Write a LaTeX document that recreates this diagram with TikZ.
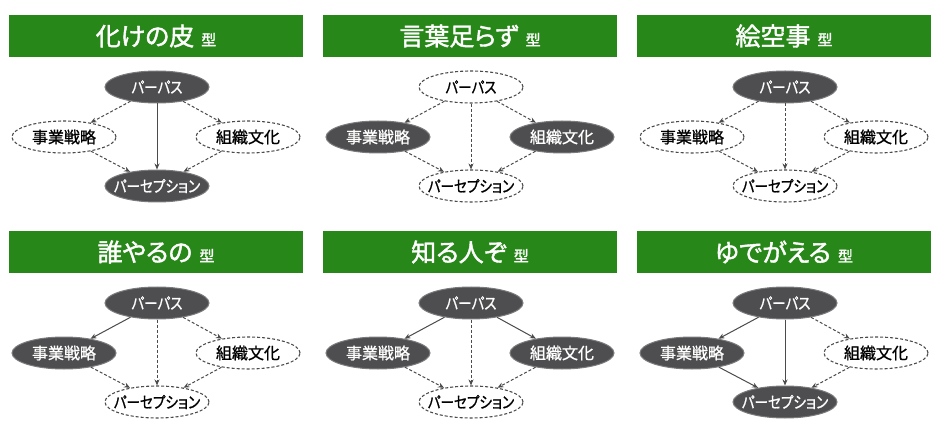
\documentclass[tikz,border=0pt]{standalone}
\usepackage{fontspec}
\usepackage{graphicx}
\setmainfont{Noto Sans CJK JP}[RawFeature=+palt]
\newfontfamily\heavyjp{Noto Sans CJK JP}[RawFeature=+palt, FakeBold=1.6]
\newfontfamily\mediumjp{Noto Sans CJK JP}[RawFeature=+palt, FakeBold=1.0]
\usetikzlibrary{shapes.geometric,arrows.meta}
\definecolor{bannergreen}{RGB}{40,135,25}
\definecolor{nodegray}{RGB}{78,78,80}
\definecolor{linegray}{RGB}{75,75,75}

\tikzset{
  banner/.style={fill=bannergreen, minimum width=294pt, minimum height=42pt, inner sep=0pt, text=white},
  full/.style={ellipse, fill=nodegray, draw=nodegray!75!white, line width=1pt, text=white,
    minimum width=104pt, minimum height=32pt, inner sep=0pt, font=\mediumjp\fontsize{16}{16}\selectfont},
  open/.style={full, fill=white, draw=linegray, line width=1.1pt, dash pattern=on 3pt off 2pt, text=black},
  link/.style={-{Stealth[length=6pt,width=5pt]}, draw=linegray, line width=1pt},
  dlink/.style={link, dash pattern=on 3pt off 2pt}
}
\newcommand{\bigtitle}[1]{\heavyjp\fontsize{25}{25}\selectfont #1\hspace{7pt}\fontsize{15}{15}\selectfont 型}
\newcommand{\nlabel}[1]{\makebox[0pt]{#1}}
\newcommand{\kana}[1]{\makebox[0pt]{\scalebox{0.85}[1]{#1}}}

\begin{document}
\begin{tikzpicture}[x=1pt, y=-1pt]
  \useasboundingbox[fill=white] (0,0) rectangle (941,443);

  % 化けの皮
  \begin{scope}[shift={(0,0)}]
  \node[banner] (title1) at (156,36) {\bigtitle{化けの皮}};
  \node[full] (pur1) at (157,87) {\kana{パーパス}};
  \node[open] (strat1) at (64,137) {\nlabel{事業戦略}};
  \node[open] (cult1) at (248,137) {\nlabel{組織文化}};
  \node[full] (perc1) at (157,186) {\kana{パーセプション}};
  \draw[dlink] (pur1) -- (strat1);
  \draw[dlink] (pur1) -- (cult1);
  \draw[link] (pur1) -- (perc1);
  \draw[dlink] (strat1) -- (perc1);
  \draw[dlink] (cult1) -- (perc1);
  \end{scope}

  % 言葉足らず
  \begin{scope}[shift={(314,0)}]
  \node[banner] (title2) at (156,36) {\bigtitle{言葉足らず}};
  \node[open] (pur2) at (157,87) {\kana{パーパス}};
  \node[full] (strat2) at (64,137) {\nlabel{事業戦略}};
  \node[full] (cult2) at (248,137) {\nlabel{組織文化}};
  \node[open] (perc2) at (157,186) {\kana{パーセプション}};
  \draw[dlink] (pur2) -- (strat2);
  \draw[dlink] (pur2) -- (cult2);
  \draw[dlink] (pur2) -- (perc2);
  \draw[dlink] (strat2) -- (perc2);
  \draw[dlink] (cult2) -- (perc2);
  \end{scope}

  % 絵空事
  \begin{scope}[shift={(628,0)}]
  \node[banner] (title3) at (156,36) {\bigtitle{絵空事}};
  \node[full] (pur3) at (157,87) {\kana{パーパス}};
  \node[open] (strat3) at (64,137) {\nlabel{事業戦略}};
  \node[open] (cult3) at (248,137) {\nlabel{組織文化}};
  \node[open] (perc3) at (157,186) {\kana{パーセプション}};
  \draw[dlink] (pur3) -- (strat3);
  \draw[dlink] (pur3) -- (cult3);
  \draw[dlink] (pur3) -- (perc3);
  \draw[dlink] (strat3) -- (perc3);
  \draw[dlink] (cult3) -- (perc3);
  \end{scope}

  % 誰やるの
  \begin{scope}[shift={(0,216)}]
  \node[banner] (title4) at (156,36) {\bigtitle{誰やるの}};
  \node[full] (pur4) at (157,87) {\kana{パーパス}};
  \node[full] (strat4) at (64,137) {\nlabel{事業戦略}};
  \node[open] (cult4) at (248,137) {\nlabel{組織文化}};
  \node[open] (perc4) at (157,186) {\kana{パーセプション}};
  \draw[link] (pur4) -- (strat4);
  \draw[dlink] (pur4) -- (cult4);
  \draw[dlink] (pur4) -- (perc4);
  \draw[dlink] (strat4) -- (perc4);
  \draw[dlink] (cult4) -- (perc4);
  \end{scope}

  % 知る人ぞ
  \begin{scope}[shift={(314,216)}]
  \node[banner] (title5) at (156,36) {\bigtitle{知る人ぞ}};
  \node[full] (pur5) at (157,87) {\kana{パーパス}};
  \node[full] (strat5) at (64,137) {\nlabel{事業戦略}};
  \node[full] (cult5) at (248,137) {\nlabel{組織文化}};
  \node[open] (perc5) at (157,186) {\kana{パーセプション}};
  \draw[link] (pur5) -- (strat5);
  \draw[link] (pur5) -- (cult5);
  \draw[dlink] (pur5) -- (perc5);
  \draw[dlink] (strat5) -- (perc5);
  \draw[dlink] (cult5) -- (perc5);
  \end{scope}

  % ゆでがえる
  \begin{scope}[shift={(628,216)}]
  \node[banner] (title6) at (156,36) {\bigtitle{ゆでがえる}};
  \node[full] (pur6) at (157,87) {\kana{パーパス}};
  \node[full] (strat6) at (64,137) {\nlabel{事業戦略}};
  \node[open] (cult6) at (248,137) {\nlabel{組織文化}};
  \node[full] (perc6) at (157,186) {\kana{パーセプション}};
  \draw[link] (pur6) -- (strat6);
  \draw[dlink] (pur6) -- (cult6);
  \draw[link] (pur6) -- (perc6);
  \draw[link] (strat6) -- (perc6);
  \draw[dlink] (cult6) -- (perc6);
  \end{scope}
\end{tikzpicture}
\end{document}
